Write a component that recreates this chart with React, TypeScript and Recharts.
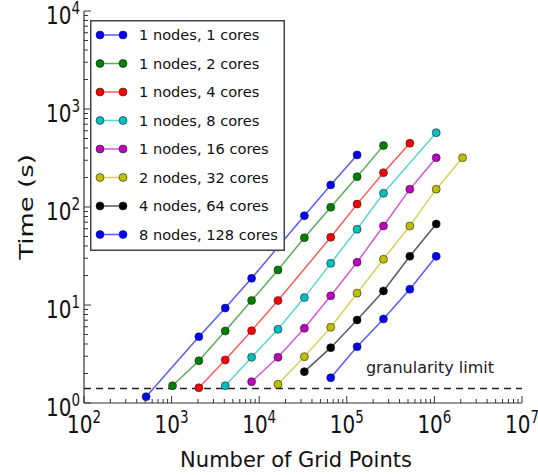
import React from 'react';
import { LineChart, Line, XAxis, YAxis, ReferenceLine, Legend } from 'recharts';

const FONT = '"DejaVu Sans", sans-serif';

const seriesNames = [
  '1 nodes, 1 cores',
  '1 nodes, 2 cores',
  '1 nodes, 4 cores',
  '1 nodes, 8 cores',
  '1 nodes, 16 cores',
  '2 nodes, 32 cores',
  '4 nodes, 64 cores',
  '8 nodes, 128 cores',
];
const seriesColors = ['#0000ff', '#008000', '#ff0000', '#00bfbf', '#bf00bf', '#bfbf00', '#000000', '#0000ff'];

const c1Grid = [512, 2048, 4096, 8192, 16384, 32768, 65536, 131072];
const c1Time = [1.16, 4.75, 9.3, 18.7, 39, 81.5, 168, 340];
const c2Grid = [1024, 2048, 4096, 8192, 16384, 32768, 65536, 131072, 262144];
const c2Time = [1.5, 2.7, 5.43, 11.1, 22.8, 48.6, 99.3, 204, 423];
const c4Grid = [2048, 4096, 8192, 16384, 65536, 131072, 262144, 524288];
const c4Time = [1.43, 2.75, 5.47, 11.1, 49.1, 107, 224, 447];
const c8Grid = [4096, 8192, 16384, 32768, 65536, 131072, 262144, 1048576];
const c8Time = [1.5, 2.93, 5.65, 11.9, 26.6, 59.2, 138, 573];
const c16Grid = [8192, 16384, 32768, 65536, 131072, 262144, 524288, 1048576];
const c16Time = [1.65, 2.93, 5.78, 12.4, 27.3, 64, 152, 318];
const c32Grid = [16384, 32768, 65536, 131072, 262144, 524288, 1048576, 2097152];
const c32Time = [1.55, 2.97, 5.92, 13.2, 29.3, 64, 152, 318];
const c64Grid = [32768, 65536, 131072, 262144, 524288, 1048576];
const c64Time = [2.09, 3.67, 7.03, 13.9, 31.4, 67.1];
const c128Grid = [65536, 131072, 262144, 524288, 1048576];
const c128Time = [1.81, 3.75, 7.2, 14.5, 31.4];

const granularityLimit = 1.41;
const granularityText = 'granularity limit';
const xLabel = 'Number of Grid Points';
const yLabel = 'Time (s)';

const xMajorTicks = [100, 1000, 10000, 100000, 1000000, 10000000];
const yMajorTicks = [1, 10, 100, 1000, 10000];

const withMinor = (majors: number[]) => {
  const out: number[] = [];
  majors.forEach((m, i) => {
    out.push(m);
    if (i < majors.length - 1) for (let k = 2; k <= 9; k++) out.push(m * k);
  });
  return out;
};
const xTicks = withMinor(xMajorTicks);
const yTicks = withMinor(yMajorTicks);

const grids = [c1Grid, c2Grid, c4Grid, c8Grid, c16Grid, c32Grid, c64Grid, c128Grid];
const times = [c1Time, c2Time, c4Time, c8Time, c16Time, c32Time, c64Time, c128Time];
const seriesData = grids.map((g, i) => g.map((x, j) => ({ x, y: times[i][j] })));

const isMajor = (v: number) => Math.abs(Math.log10(v) - Math.round(Math.log10(v))) < 1e-9;
const TICK = '#333';

const PowerLabel = ({ x, y, anchor, exp }: { x: number; y: number; anchor: 'middle' | 'end'; exp: number }) => (
  <g transform={`translate(${x}, ${y}) scale(1, 1.25)`}>
    <text x={0} y={0} textAnchor={anchor} fontFamily={FONT} fontSize={20} fill="#111">
      10<tspan dy={-8} fontSize={13.5}>{exp}</tspan>
    </text>
  </g>
);

const BottomTick = (props: any) => {
  const { x, y, payload } = props;
  const v = payload.value;
  const major = isMajor(v);
  return (
    <g>
      <line x1={x} x2={x} y1={y} y2={y - (major ? 7 : 4)} stroke={TICK} strokeWidth={1} />
      {major && <PowerLabel x={x} y={y + 30} anchor="middle" exp={Math.round(Math.log10(v))} />}
    </g>
  );
};
const TopTick = (props: any) => {
  const { x, y, payload } = props;
  const major = isMajor(payload.value);
  return <line x1={x} x2={x} y1={y} y2={y + (major ? 7 : 4)} stroke={TICK} strokeWidth={1} />;
};
const LeftTick = (props: any) => {
  const { x, y, payload } = props;
  const v = payload.value;
  const major = isMajor(v);
  return (
    <g>
      <line x1={x} x2={x + (major ? 7 : 4)} y1={y} y2={y} stroke={TICK} strokeWidth={1} />
      {major && <PowerLabel x={x - 4} y={y + 13} anchor="end" exp={Math.round(Math.log10(v))} />}
    </g>
  );
};
const RightTick = (props: any) => {
  const { x, y, payload } = props;
  const major = isMajor(payload.value);
  return <line x1={x} x2={x - (major ? 7 : 4)} y1={y} y2={y} stroke={TICK} strokeWidth={1} />;
};

const makeDot = (color: string) => (props: any) => {
  const { cx, cy, index } = props;
  if (cx == null || cy == null) return <g key={index} />;
  return <circle key={index} cx={cx} cy={cy} r={4} fill={color} stroke="#222" strokeWidth={0.6} />;
};

const LegendBox = () => (
  <svg width={195} height={231} style={{ display: 'block' }}>
    <rect x={0.75} y={0.75} width={193.5} height={229.5} fill="#fff" stroke="#444" strokeWidth={1.5} />
    {seriesNames.map((n, i) => {
      const cy = 15 + i * 28.5;
      const c = seriesColors[i];
      return (
        <g key={n}>
          <line x1={10} x2={33} y1={cy} y2={cy} stroke={c} strokeOpacity={0.65} strokeWidth={1.5} />
          <circle cx={10} cy={cy} r={4} fill={c} stroke="#222" strokeWidth={0.6} />
          <circle cx={33} cy={cy} r={4} fill={c} stroke="#222" strokeWidth={0.6} />
          <text x={49} y={cy + 5.3} fontFamily={FONT} fontSize={14.6} fill="#111">{n}</text>
        </g>
      );
    })}
  </svg>
);

export default function App() {
  return (
    <div style={{ position: 'absolute', left: 0, top: 0, width: 538, height: 475, background: '#fff' }}>
      <LineChart width={538} height={475} margin={{ top: 11, right: 16, bottom: 0, left: 0 }}>
        <XAxis
          xAxisId="bottom"
          dataKey="x"
          type="number"
          scale="log"
          domain={[100, 10000000]}
          allowDataOverflow
          ticks={xTicks}
          interval={0}
          tick={<BottomTick />}
          tickSize={0}
          tickMargin={0}
          tickLine={false}
          axisLine={{ stroke: TICK, strokeWidth: 1.2 }}
          height={72}
          label={{
            content: (p: any) => {
              const vb = p.viewBox || { x: 84, y: 403, width: 438 };
              return (
                <text x={vb.x + vb.width / 2 - 7} y={467} textAnchor="middle" fontFamily={FONT} fontSize={21} fill="#111">
                  {xLabel}
                </text>
              );
            },
          }}
        />
        <XAxis
          xAxisId="top"
          orientation="top"
          dataKey="x"
          type="number"
          scale="log"
          domain={[100, 10000000]}
          allowDataOverflow
          ticks={xTicks}
          interval={0}
          tick={<TopTick />}
          tickSize={0}
          tickMargin={0}
          tickLine={false}
          axisLine={{ stroke: TICK, strokeWidth: 1.2 }}
          height={0}
        />
        <YAxis
          yAxisId="left"
          type="number"
          scale="log"
          domain={[1, 10000]}
          allowDataOverflow
          ticks={yTicks}
          interval={0}
          tick={<LeftTick />}
          tickSize={0}
          tickMargin={0}
          tickLine={false}
          axisLine={{ stroke: TICK, strokeWidth: 1.2 }}
          width={84}
          label={{
            content: (p: any) => {
              const vb = p.viewBox || { y: 11, height: 392 };
              const cy = vb.y + vb.height / 2;
              return (
                <g transform={`translate(33, ${cy}) rotate(-90) scale(1.3, 1)`}>
                  <text x={0} y={0} textAnchor="middle" fontFamily={FONT} fontSize={20} fill="#111">
                    {yLabel}
                  </text>
                </g>
              );
            },
          }}
        />
        <YAxis
          yAxisId="right"
          orientation="right"
          type="number"
          scale="log"
          domain={[1, 10000]}
          allowDataOverflow
          ticks={yTicks}
          interval={0}
          tick={<RightTick />}
          tickSize={0}
          tickMargin={0}
          tickLine={false}
          axisLine={{ stroke: TICK, strokeWidth: 1.2 }}
          width={0}
        />
        <ReferenceLine
          xAxisId="bottom"
          yAxisId="left"
          y={granularityLimit}
          stroke="#222"
          strokeWidth={1.5}
          strokeDasharray="7 5"
          label={{
            content: (p: any) => {
              const vb = p.viewBox || { x: 84, y: 388, width: 438 };
              return (
                <text x={vb.x + vb.width - 28} y={vb.y - 15} textAnchor="end" fontFamily={FONT} fontSize={16} fill="#222">
                  {granularityText}
                </text>
              );
            },
          }}
        />
        {seriesData.map((d, i) => (
          <Line
            key={seriesNames[i]}
            name={seriesNames[i]}
            xAxisId="bottom"
            yAxisId="left"
            data={d}
            dataKey="y"
            type="linear"
            stroke={seriesColors[i]}
            strokeOpacity={0.65}
            strokeWidth={1.5}
            dot={makeDot(seriesColors[i])}
            activeDot={false}
            isAnimationActive={false}
          />
        ))}
        <Legend
          layout="horizontal"
          verticalAlign="middle"
          align="center"
          width={195}
          height={231}
          wrapperStyle={{ position: 'absolute', left: 90, top: 20, width: 195, height: 231 }}
          content={() => <LegendBox />}
        />
      </LineChart>
    </div>
  );
}
